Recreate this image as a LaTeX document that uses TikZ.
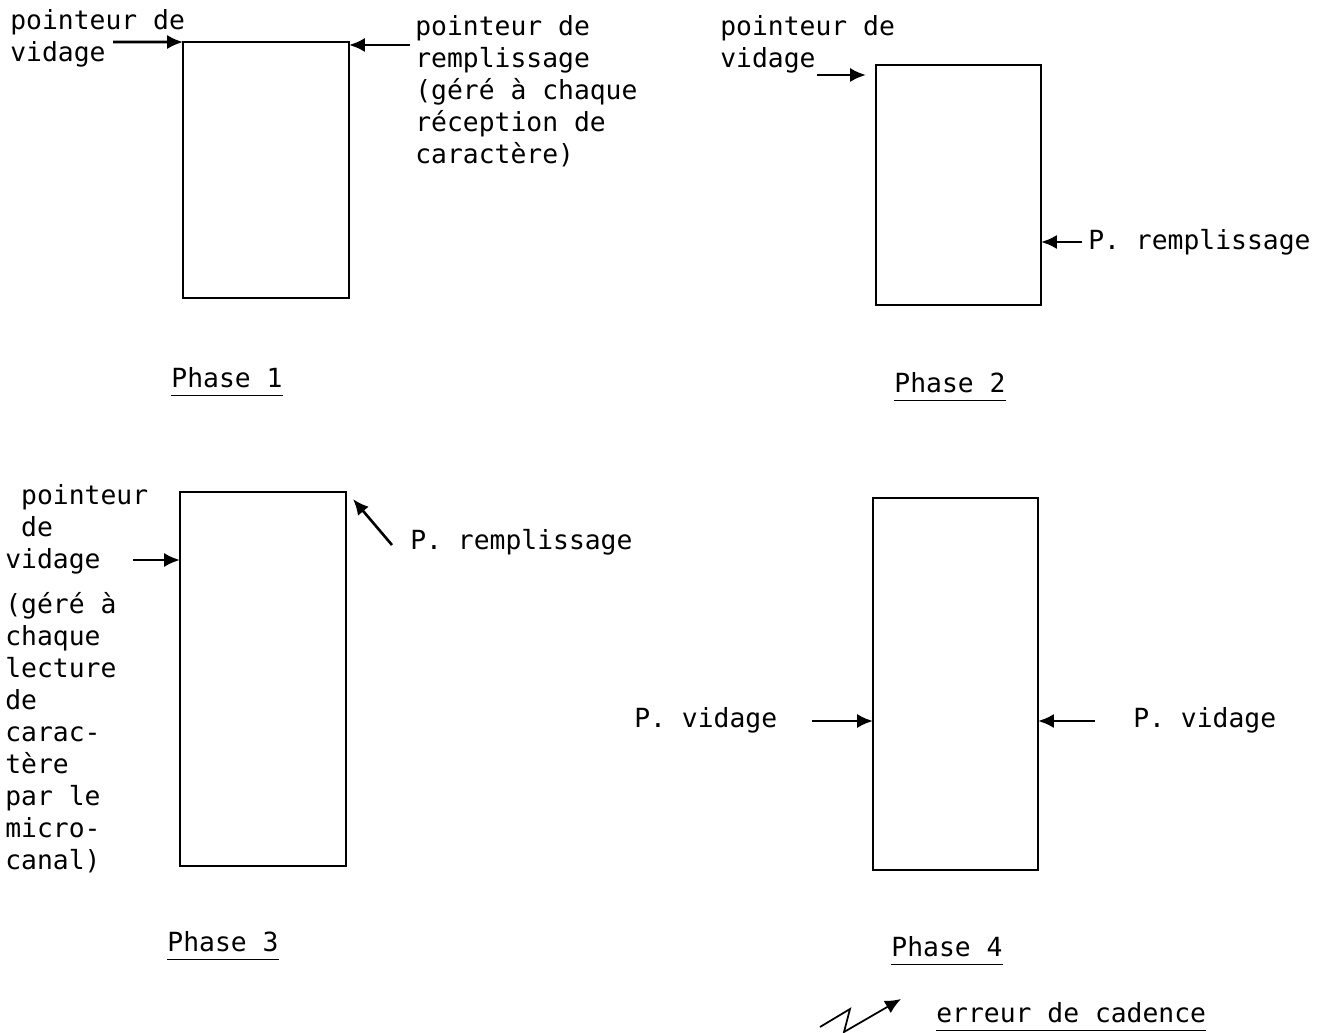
\documentclass[tikz,border=0pt]{standalone}
\usepackage{fontspec}
\setmonofont{DejaVu Sans Mono}
\usetikzlibrary{arrows.meta}

\begin{document}
\begin{tikzpicture}[x=0.02cm, y=-0.02cm]
    \tikzstyle{txt} = [font=\ttfamily\fontsize{15}{18.2}\selectfont, inner sep=0pt, align=left]
    \tikzstyle{fifo} = [draw=black, line width=0.8pt, rectangle, inner sep=0pt, outer sep=0pt]
    \tikzstyle{ptr} = [line width=1.5pt, -{Latex[length=9pt,width=8pt]}]
    \tikzstyle{phase} = [font=\ttfamily\fontsize{15}{18.2}\selectfont, inner xsep=0pt, inner ysep=4pt]
    \useasboundingbox (0,0) rectangle (1328,1033);

    % phase 1
    \node[fifo, minimum width=3.32cm, minimum height=5.12cm] (b1) at (266,170) {};
    \node[txt, anchor=north west] (v1) at (10,9) {pointeur de\\vidage};
    \node[txt, anchor=north west] (r1) at (415,15) {pointeur de\\remplissage\\(géré à chaque\\réception de\\caractère)};
    \coordinate (v1s) at (113,42);
    \coordinate (r1s) at (410,45);
    \draw[ptr] (v1s) -- (b1.north west);
    \draw[ptr] (r1s) -- (r1s -| b1.east);
    \node[phase] (p1) at (227,378) {Phase 1};
    \draw[line width=0.8pt] (p1.south west) -- (p1.south east);

    % phase 2
    \node[fifo, minimum width=3.3cm, minimum height=4.8cm] (b2) at (958.5,185) {};
    \node[txt, anchor=north west] (v2) at (720,15) {pointeur de\\vidage};
    \node[txt, anchor=west] (r2) at (1088,242) {P. remplissage};
    \coordinate (v2s) at (817,75);
    \draw[ptr] (v2s) -- ++(49,0);
    \draw[ptr] (r2.west) ++(-6,0) -- (r2.west -| b2.east);
    \node[phase] (p2) at (950,383) {Phase 2};
    \draw[line width=0.8pt] (p2.south west) -- (p2.south east);

    % phase 3
    \node[fifo, minimum width=3.32cm, minimum height=7.48cm] (b3) at (263,679) {};
    \node[txt, anchor=north west] (v3) at (5,484) {~pointeur\\~de\\vidage};
    \node[txt, anchor=north west] (g3) at (5,592) {(géré à\\chaque\\lecture\\de\\carac-\\tère\\par le\\micro-\\canal)};
    \node[txt, anchor=west] (r3) at (410,542) {P. remplissage};
    \coordinate (v3s) at (133,560);
    \coordinate (r3s) at (392,545);
    \draw[ptr] (v3s) -- (v3s -| b3.west);
    \draw[ptr] (r3s) -- ([xshift=4pt,yshift=-4pt]b3.north east);
    \node[phase] (p3) at (223,942) {Phase 3};
    \draw[line width=0.8pt] (p3.south west) -- (p3.south east);

    % phase 4
    \node[fifo, minimum width=3.3cm, minimum height=7.44cm] (b4) at (955.5,684) {};
    \node[txt, anchor=west] (v4l) at (634,720) {P. vidage};
    \node[txt, anchor=west] (v4r) at (1133,720) {P. vidage};
    \coordinate (v4ls) at (812,721);
    \coordinate (v4rs) at (1095,721);
    \draw[ptr] (v4ls) -- (v4ls -| b4.west);
    \draw[ptr] (v4rs) -- (v4rs -| b4.east);
    \node[phase] (p4) at (947,947) {Phase 4};
    \draw[line width=0.8pt] (p4.south west) -- (p4.south east);

    % erreur de cadence
    \node[phase, anchor=west] (e4) at (936,1013) {erreur de cadence};
    \draw[line width=0.8pt] (e4.south west) -- (e4.south east);
    \coordinate (z0) at (820,1027);
    \coordinate (z1) at (850,1009);
    \coordinate (z2) at (844,1032);
    \coordinate (z3) at (901,999);
    \draw[line width=1pt, -{Latex[length=9pt,width=8pt]}] (z0) -- (z1) -- (z2) -- (z3);
\end{tikzpicture}
\end{document}
